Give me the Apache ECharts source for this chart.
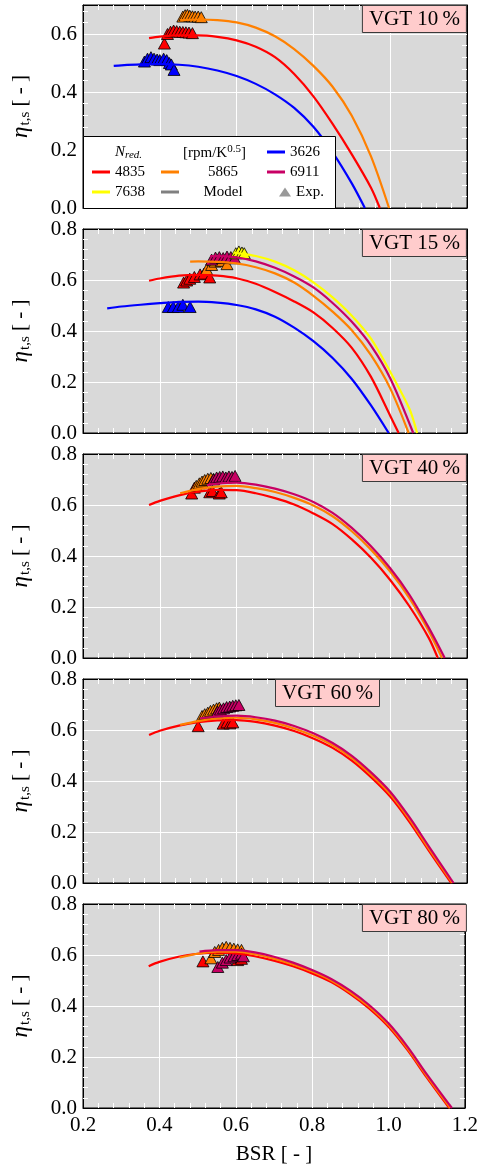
<!DOCTYPE html>
<html><head><meta charset="utf-8">
<script src="https://cdn.jsdelivr.net/npm/echarts@6/dist/echarts.min.js"></script>
<style>html,body{margin:0;padding:0;background:#fff}#c{width:481px;height:1173px}</style>
</head><body><div id="c"></div><script>
// ---------- data ----------
const speeds = ['3626', '4835', '5865', '6911', '7638'];
const vgtLabels = ['VGT 10\u2009%', 'VGT 15\u2009%', 'VGT 40\u2009%', 'VGT 60\u2009%', 'VGT 80\u2009%'];
const yMaxes = [0.7, 0.8, 0.8, 0.8, 0.8];
const xAxisTitle = 'BSR [ - ]';

// VGT 10 %
const model10_3626 = [[0.28,0.49],[0.30,0.492],[0.35,0.495],[0.40,0.496],[0.45,0.494],[0.50,0.487],[0.55,0.474],[0.60,0.455],[0.65,0.428],[0.70,0.392],[0.75,0.345],[0.80,0.28],[0.85,0.192],[0.90,0.085],[0.934,0]];
const model10_4835 = [[0.372,0.586],[0.40,0.591],[0.45,0.595],[0.50,0.595],[0.55,0.59],[0.60,0.578],[0.65,0.556],[0.70,0.52],[0.75,0.462],[0.80,0.385],[0.85,0.29],[0.90,0.185],[0.95,0.07],[0.973,0]];
const model10_5865 = [[0.453,0.648],[0.50,0.65],[0.55,0.648],[0.60,0.64],[0.65,0.622],[0.70,0.592],[0.75,0.548],[0.80,0.49],[0.85,0.418],[0.90,0.318],[0.95,0.178],[0.997,0]];
const exp10_3626 = [[0.36,0.505],[0.368,0.515],[0.377,0.52],[0.385,0.515],[0.393,0.512],[0.40,0.51],[0.41,0.515],[0.418,0.51],[0.425,0.5],[0.43,0.495],[0.437,0.476]];
const exp10_4835 = [[0.412,0.567],[0.42,0.60],[0.428,0.608],[0.436,0.612],[0.444,0.61],[0.452,0.608],[0.46,0.607],[0.468,0.606],[0.476,0.605],[0.485,0.603]];
const exp10_5865 = [[0.46,0.66],[0.466,0.665],[0.472,0.666],[0.478,0.663],[0.485,0.661],[0.492,0.66],[0.50,0.66],[0.508,0.658]];

// VGT 15 %
const model15_3626 = [[0.263,0.489],[0.30,0.496],[0.35,0.503],[0.40,0.509],[0.45,0.514],[0.50,0.515],[0.55,0.511],[0.60,0.502],[0.65,0.485],[0.70,0.456],[0.75,0.413],[0.80,0.36],[0.85,0.294],[0.90,0.212],[0.95,0.108],[0.996,0]];
const model15_4835 = [[0.372,0.597],[0.40,0.606],[0.45,0.617],[0.50,0.62],[0.55,0.617],[0.60,0.607],[0.65,0.585],[0.70,0.553],[0.75,0.516],[0.80,0.473],[0.85,0.412],[0.90,0.334],[0.95,0.22],[1.0,0.068],[1.022,0]];
const model15_5865 = [[0.479,0.672],[0.50,0.673],[0.55,0.671],[0.60,0.665],[0.65,0.65],[0.70,0.626],[0.75,0.59],[0.80,0.538],[0.85,0.476],[0.90,0.403],[0.95,0.305],[1.0,0.175],[1.048,0]];
const model15_6911 = [[0.531,0.694],[0.55,0.694],[0.60,0.689],[0.65,0.673],[0.70,0.648],[0.75,0.614],[0.80,0.571],[0.85,0.51],[0.90,0.436],[0.95,0.343],[1.0,0.215],[1.06,0]];
const model15_7638 = [[0.592,0.707],[0.60,0.706],[0.65,0.694],[0.70,0.672],[0.75,0.638],[0.80,0.591],[0.85,0.532],[0.90,0.46],[0.95,0.37],[1.0,0.24],[1.05,0.095],[1.07,0]];
const exp15_3626 = [[0.422,0.494],[0.435,0.494],[0.448,0.494],[0.46,0.503],[0.479,0.494]];
const exp15_4835 = [[0.462,0.59],[0.47,0.598],[0.478,0.605],[0.49,0.612],[0.505,0.622],[0.515,0.625],[0.53,0.61]];
const exp15_5865 = [[0.522,0.642],[0.535,0.659],[0.544,0.672],[0.56,0.675],[0.575,0.662]];
const exp15_6911 = [[0.535,0.68],[0.545,0.688],[0.555,0.69],[0.565,0.686],[0.575,0.692],[0.585,0.69],[0.595,0.685]];
const exp15_7638 = [[0.598,0.705],[0.606,0.712],[0.614,0.708],[0.62,0.705]];

// VGT 40 %
const model40_4835 = [[0.372,0.60],[0.40,0.616],[0.45,0.638],[0.50,0.652],[0.55,0.659],[0.60,0.658],[0.65,0.646],[0.70,0.627],[0.75,0.602],[0.80,0.567],[0.85,0.525],[0.90,0.465],[0.95,0.393],[1.0,0.306],[1.05,0.203],[1.10,0.08],[1.124,0]];
const model40_5865 = [[0.453,0.646],[0.50,0.662],[0.55,0.672],[0.60,0.675],[0.65,0.666],[0.70,0.651],[0.75,0.628],[0.80,0.598],[0.85,0.556],[0.90,0.497],[0.95,0.425],[1.0,0.339],[1.05,0.235],[1.10,0.107],[1.135,0]];
const model40_6911 = [[0.523,0.678],[0.55,0.684],[0.60,0.688],[0.65,0.68],[0.70,0.664],[0.75,0.642],[0.80,0.612],[0.85,0.569],[0.90,0.51],[0.95,0.438],[1.0,0.352],[1.05,0.248],[1.10,0.12],[1.142,0]];
const exp40_4835 = [[0.483,0.645],[0.49,0.668],[0.53,0.65],[0.537,0.655],[0.555,0.645],[0.56,0.65]];
const exp40_5865 = [[0.495,0.675],[0.503,0.685],[0.51,0.692],[0.517,0.698],[0.525,0.703],[0.533,0.706],[0.54,0.703]];
const exp40_6911 = [[0.54,0.70],[0.548,0.708],[0.556,0.71],[0.564,0.712],[0.572,0.708],[0.58,0.712],[0.588,0.71],[0.596,0.714]];

// VGT 60 %
const model60_4835 = [[0.372,0.58],[0.40,0.597],[0.45,0.617],[0.50,0.631],[0.55,0.638],[0.60,0.639],[0.65,0.632],[0.70,0.617],[0.75,0.596],[0.80,0.567],[0.85,0.53],[0.90,0.48],[0.95,0.415],[1.0,0.339],[1.05,0.24],[1.10,0.128],[1.159,0]];
const model60_5865 = [[0.453,0.62],[0.50,0.635],[0.55,0.645],[0.60,0.648],[0.65,0.642],[0.70,0.628],[0.75,0.606],[0.80,0.577],[0.85,0.54],[0.90,0.49],[0.95,0.425],[1.0,0.349],[1.05,0.25],[1.10,0.136],[1.162,0]];
const model60_6911 = [[0.505,0.646],[0.55,0.653],[0.60,0.656],[0.65,0.65],[0.70,0.637],[0.75,0.616],[0.80,0.587],[0.85,0.549],[0.90,0.499],[0.95,0.434],[1.0,0.358],[1.05,0.258],[1.10,0.145],[1.165,0]];
const exp60_4835 = [[0.50,0.615],[0.565,0.625],[0.575,0.63],[0.583,0.626],[0.59,0.63]];
const exp60_5865 = [[0.51,0.655],[0.517,0.662],[0.525,0.668],[0.532,0.675],[0.54,0.68],[0.548,0.685],[0.555,0.688]];
const exp60_6911 = [[0.55,0.672],[0.558,0.68],[0.566,0.685],[0.574,0.69],[0.582,0.692],[0.59,0.695],[0.598,0.697],[0.606,0.698]];

// VGT 80 %
const model80_4835 = [[0.372,0.556],[0.40,0.573],[0.45,0.593],[0.50,0.605],[0.55,0.609],[0.60,0.606],[0.65,0.595],[0.70,0.578],[0.75,0.556],[0.80,0.528],[0.85,0.494],[0.90,0.447],[0.95,0.39],[1.0,0.319],[1.05,0.227],[1.10,0.12],[1.159,0]];
const model80_5865 = [[0.453,0.59],[0.50,0.605],[0.55,0.613],[0.60,0.613],[0.65,0.603],[0.70,0.586],[0.75,0.563],[0.80,0.535],[0.85,0.5],[0.90,0.453],[0.95,0.396],[1.0,0.325],[1.05,0.233],[1.10,0.126],[1.162,0]];
const model80_6911 = [[0.505,0.613],[0.55,0.619],[0.60,0.619],[0.65,0.61],[0.70,0.593],[0.75,0.57],[0.80,0.541],[0.85,0.506],[0.90,0.46],[0.95,0.403],[1.0,0.332],[1.05,0.24],[1.10,0.133],[1.166,0]];
const exp80_4835 = [[0.514,0.575],[0.605,0.58],[0.615,0.585]];
const exp80_5865 = [[0.535,0.587],[0.545,0.612],[0.555,0.62],[0.565,0.628],[0.575,0.632],[0.585,0.628],[0.595,0.625],[0.605,0.622],[0.615,0.62]];
const exp80_6911 = [[0.553,0.553],[0.565,0.57],[0.575,0.58],[0.585,0.59],[0.595,0.595],[0.605,0.6],[0.615,0.605],[0.62,0.595]];

const modelCurves = [
  {'3626': model10_3626, '4835': model10_4835, '5865': model10_5865},
  {'3626': model15_3626, '4835': model15_4835, '5865': model15_5865, '6911': model15_6911, '7638': model15_7638},
  {'4835': model40_4835, '5865': model40_5865, '6911': model40_6911},
  {'4835': model60_4835, '5865': model60_5865, '6911': model60_6911},
  {'4835': model80_4835, '5865': model80_5865, '6911': model80_6911}
];
const expPoints = [
  {'3626': exp10_3626, '4835': exp10_4835, '5865': exp10_5865},
  {'3626': exp15_3626, '4835': exp15_4835, '5865': exp15_5865, '6911': exp15_6911, '7638': exp15_7638},
  {'4835': exp40_4835, '5865': exp40_5865, '6911': exp40_6911},
  {'4835': exp60_4835, '5865': exp60_5865, '6911': exp60_6911},
  {'4835': exp80_4835, '5865': exp80_5865, '6911': exp80_6911}
];

// ---------- style ----------
const colors = {'3626': '#0000ff', '4835': '#ff0000', '5865': '#ff8000', '6911': '#c80064', '7638': '#ffff00'};
const FONT = 'Liberation Serif';
const gridTops = [5, 229, 454, 679, 904];
const gridHeights = [203, 204, 204, 204, 204];
const GL = 83, GR = 14;

const grids = [], xAxes = [], yAxes = [], series = [], titles = [];
const minorTick = {show: true, splitNumber: 5, length: 5, lineStyle: {color: '#ffffff', width: 1}};
for (let i = 0; i < 5; i++) {
  grids.push({left: GL, right: GR, top: gridTops[i], height: gridHeights[i], show: true,
    backgroundColor: '#d9d9d9', borderColor: '#000', borderWidth: 1});
}
// primary axes 0..4, secondary 5..9
for (let k = 0; k < 10; k++) {
  const i = k % 5, sec = k >= 5;
  xAxes.push({
    type: 'value', gridIndex: i, min: 0.2, max: 1.2, interval: 0.2,
    position: sec ? 'top' : 'bottom',
    axisLine: {show: true, onZero: false, lineStyle: {color: '#000', width: 1}},
    axisTick: {show: false, inside: true},
    minorTick: minorTick,
    splitLine: {show: !sec, showMinLine: false, showMaxLine: false, lineStyle: {color: '#ffffff', width: 1}},
    axisLabel: {show: (!sec && i === 4), fontFamily: FONT, fontSize: 21, color: '#000', margin: 7,
      formatter: v => v.toFixed(1)},
    name: (!sec && i === 4) ? xAxisTitle : '',
    nameLocation: 'middle', nameGap: 36,
    nameTextStyle: {fontFamily: FONT, fontSize: 21, color: '#000'}
  });
  yAxes.push({
    type: 'value', gridIndex: i, min: 0, max: yMaxes[i], interval: 0.2,
    position: sec ? 'right' : 'left',
    axisLine: {show: true, onZero: false, lineStyle: {color: '#000', width: 1}},
    axisTick: {show: false, inside: true},
    minorTick: minorTick,
    splitLine: {show: !sec, showMinLine: false, showMaxLine: false, lineStyle: {color: '#ffffff', width: 1}},
    axisLabel: {show: !sec, fontFamily: FONT, fontSize: 21, color: '#000', margin: 6,
      showMaxLabel: i !== 0, formatter: v => v.toFixed(1)},
    name: sec ? '' : '{e|\u03b7}{s|t,s} [ - ]',
    nameLocation: 'middle', nameGap: 50, nameRotate: 90,
    nameTextStyle: {fontFamily: FONT, fontSize: 21, color: '#000',
      rich: {e: {fontFamily: FONT, fontSize: 23, fontStyle: 'italic', color: '#000'},
             s: {fontFamily: FONT, fontSize: 15, color: '#000', padding: [10, 0, 0, 1]}}}
  });
}
for (let i = 0; i < 5; i++) {
  for (const sp of speeds) {
    if (!expPoints[i][sp]) continue;
    series.push({type: 'scatter', name: sp, xAxisIndex: i, yAxisIndex: i, data: expPoints[i][sp],
      symbol: 'triangle', symbolSize: [12, 11], z: 2,
      itemStyle: {color: colors[sp], borderColor: '#000', borderWidth: 0.8, opacity: 1}});
  }
  for (const sp of speeds) {
    if (!modelCurves[i][sp]) continue;
    series.push({type: 'line', name: sp, xAxisIndex: i, yAxisIndex: i, data: modelCurves[i][sp],
      smooth: 0.3, showSymbol: false, symbol: 'none', z: 3,
      color: colors[sp], lineStyle: {color: colors[sp], width: 2.2}});
  }
  const t = {text: vgtLabels[i], top: gridTops[i], padding: [3, 7, 3, 7],
    backgroundColor: '#ffcccc', borderColor: '#3a3a3a', borderWidth: 1, z: 8,
    textStyle: {fontFamily: FONT, fontSize: 21, fontWeight: 'normal', color: '#000', lineHeight: 22}};
  if (i === 3) t.left = 275; else t.right = GR;
  titles.push(t);
}
// legend-only series
series.push({type: 'line', name: 'N_red.', data: [], xAxisIndex: 0, yAxisIndex: 0});
series.push({type: 'line', name: '[rpm/K^0.5]', data: [], xAxisIndex: 0, yAxisIndex: 0});
series.push({type: 'line', name: 'Model', data: [], xAxisIndex: 0, yAxisIndex: 0, color: '#808080'});
series.push({type: 'scatter', name: 'Exp.', data: [], xAxisIndex: 0, yAxisIndex: 0, symbol: 'triangle', itemStyle: {color: '#808080'}});

const linePath = 'path://M0,0 M0,6.5 L18,6.5 L18,9.5 L0,9.5 Z M18,16';
const triPath = 'path://M0,0 M0,12.5 L6,3.5 L12,12.5 Z M12,16';
const legTxt = {fontFamily: FONT, fontSize: 15, color: '#000',
  rich: {
    i: {fontFamily: FONT, fontSize: 15, fontStyle: 'italic', color: '#000'},
    si: {fontFamily: FONT, fontSize: 11, fontStyle: 'italic', color: '#000', padding: [7, 0, 0, 0]},
    sup: {fontFamily: FONT, fontSize: 11, color: '#000', padding: [0, 0, 8, 0]},
    t: {fontFamily: FONT, fontSize: 15, color: '#000'},
    c: {fontFamily: FONT, fontSize: 15, color: '#000', width: 78, align: 'center'}
  }};
function leg(name, left, cy, icon, w, fmt) {
  return {show: true, left: left, top: cy - 8, padding: 0, itemWidth: w, itemHeight: 16, z: 10,
    selectedMode: false, data: [{name: name, icon: icon}], textStyle: legTxt,
    itemStyle: {borderWidth: 0, borderColor: 'transparent'},
    lineStyle: {width: 0},
    formatter: fmt || (n => n)};
}
const legends = [
  leg('N_red.', 110, 152, 'none', 0, () => '{i|N}{si|red.}'),
  leg('[rpm/K^0.5]', 178, 152, 'none', 0, () => '{t|[rpm/K}{sup|0.5}{t|]}'),
  leg('3626', 267, 152, linePath, 18),
  leg('4835', 92, 172, linePath, 18),
  leg('5865', 161, 172, linePath, 18, n => '{c|' + n + '}'),
  leg('6911', 267, 172, linePath, 18),
  leg('7638', 92, 192, linePath, 18),
  leg('Model', 161, 192, linePath, 18, n => '{c|' + n + '}'),
  leg('Exp.', 279, 192, triPath, 12)
];

const chart = echarts.init(document.getElementById('c'), null, {renderer: 'canvas'});
chart.setOption({
  animation: false,
  backgroundColor: '#ffffff',
  title: titles,
  grid: grids,
  xAxis: xAxes,
  yAxis: yAxes,
  legend: legends,
  graphic: [{type: 'rect', z: 9, shape: {x: 83.5, y: 136.5, width: 252, height: 72},
    style: {fill: '#ffffff', stroke: '#000', lineWidth: 1}}],
  series: series
});
</script></body></html>
